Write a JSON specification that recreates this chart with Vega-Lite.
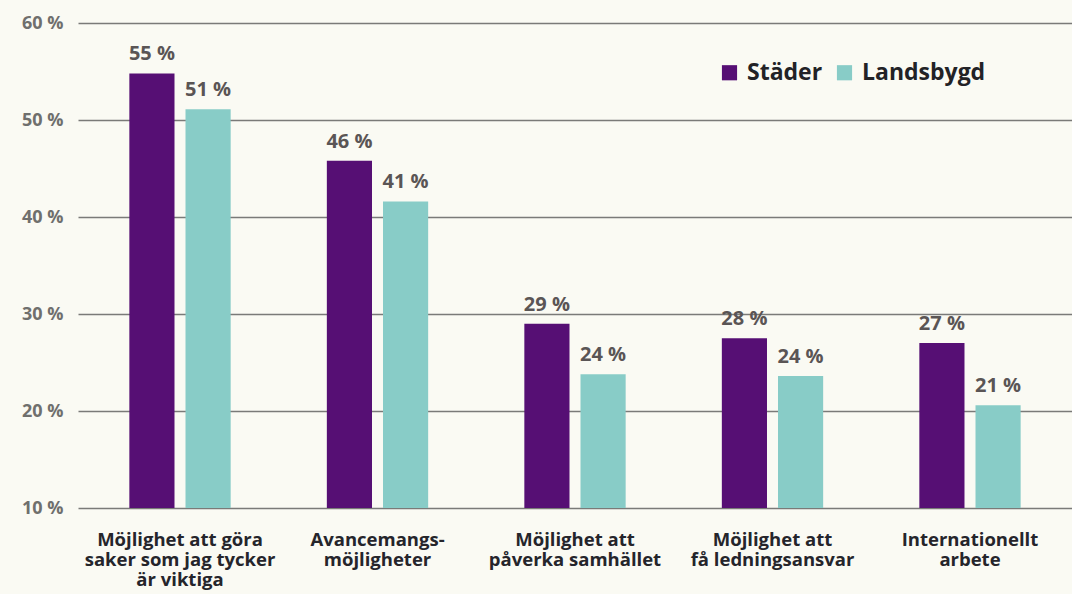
{
  "$schema": "https://vega.github.io/schema/vega-lite/v6.json",
  "width": 994,
  "height": 485,
  "autosize": {"type": "none"},
  "padding": {"left": 78, "top": 23, "right": 0, "bottom": 86},
  "background": "#fafaf3",
  "config": {
    "view": {"stroke": null},
    "font": "Open Sans"
  },
  "data": {
    "values": [
      {"kategori": "Möjlighet att göra|saker som jag tycker|är viktiga", "grupp": "Städer", "andel": 54.8, "etikett": "55 %"},
      {"kategori": "Möjlighet att göra|saker som jag tycker|är viktiga", "grupp": "Landsbygd", "andel": 51.1, "etikett": "51 %"},
      {"kategori": "Avancemangs-|möjligheter", "grupp": "Städer", "andel": 45.8, "etikett": "46 %"},
      {"kategori": "Avancemangs-|möjligheter", "grupp": "Landsbygd", "andel": 41.6, "etikett": "41 %"},
      {"kategori": "Möjlighet att|påverka samhället", "grupp": "Städer", "andel": 29.0, "etikett": "29 %"},
      {"kategori": "Möjlighet att|påverka samhället", "grupp": "Landsbygd", "andel": 23.8, "etikett": "24 %"},
      {"kategori": "Möjlighet att|få ledningsansvar", "grupp": "Städer", "andel": 27.5, "etikett": "28 %"},
      {"kategori": "Möjlighet att|få ledningsansvar", "grupp": "Landsbygd", "andel": 23.6, "etikett": "24 %"},
      {"kategori": "Internationellt|arbete", "grupp": "Städer", "andel": 27.0, "etikett": "27 %"},
      {"kategori": "Internationellt|arbete", "grupp": "Landsbygd", "andel": 20.6, "etikett": "21 %"}
    ]
  },
  "encoding": {
    "x": {
      "field": "kategori",
      "type": "nominal",
      "sort": null,
      "scale": {"paddingInner": 0.487, "paddingOuter": 0.26},
      "axis": {
        "title": null,
        "domain": false,
        "ticks": false,
        "labelAngle": 0,
        "labelExpr": "split(datum.label, '|')",
        "labelFontSize": 18.5,
        "labelFontWeight": "bold",
        "labelColor": "#25252b",
        "labelLineHeight": 20,
        "labelPadding": 22,
        "labelBaseline": "top",
        "labelLimit": 300
      }
    },
    "xOffset": {
      "field": "grupp",
      "type": "nominal",
      "sort": ["Städer", "Landsbygd"],
      "scale": {"paddingInner": 0.196, "paddingOuter": 0}
    },
    "y": {
      "field": "andel",
      "type": "quantitative",
      "scale": {"domain": [10, 60], "zero": false, "nice": false},
      "axis": {
        "title": null,
        "values": [10, 20, 30, 40, 50, 60],
        "domain": false,
        "ticks": false,
        "grid": true,
        "gridColor": "#7a7a78",
        "gridWidth": 1.5,
        "gridOpacity": 1,
        "labelExpr": "datum.value + ' %'",
        "labelFontSize": 18,
        "labelFontWeight": "bold",
        "labelColor": "#6f6f6d",
        "labelPadding": 15
      }
    }
  },
  "layer": [
    {
      "mark": {"type": "bar"},
      "encoding": {
        "y2": {"datum": 10},
        "color": {
          "field": "grupp",
          "type": "nominal",
          "sort": ["Städer", "Landsbygd"],
          "scale": {"domain": ["Städer", "Landsbygd"], "range": ["#560f74", "#88ccc7"]},
          "legend": {
            "title": null,
            "orient": "none",
            "direction": "horizontal",
            "legendX": 640,
            "legendY": 38,
            "symbolType": "square",
            "symbolSize": 230,
            "symbolStrokeWidth": 0,
            "labelFontSize": 23,
            "labelFontWeight": "bold",
            "labelColor": "#222226",
            "labelOffset": 6,
            "columnPadding": 10,
            "labelLimit": 300
          }
        }
      }
    },
    {
      "mark": {"type": "text", "dy": -9, "baseline": "bottom", "fontSize": 20, "fontWeight": "bold", "color": "#5a5555"},
      "encoding": {
        "text": {"field": "etikett"}
      }
    }
  ]
}
